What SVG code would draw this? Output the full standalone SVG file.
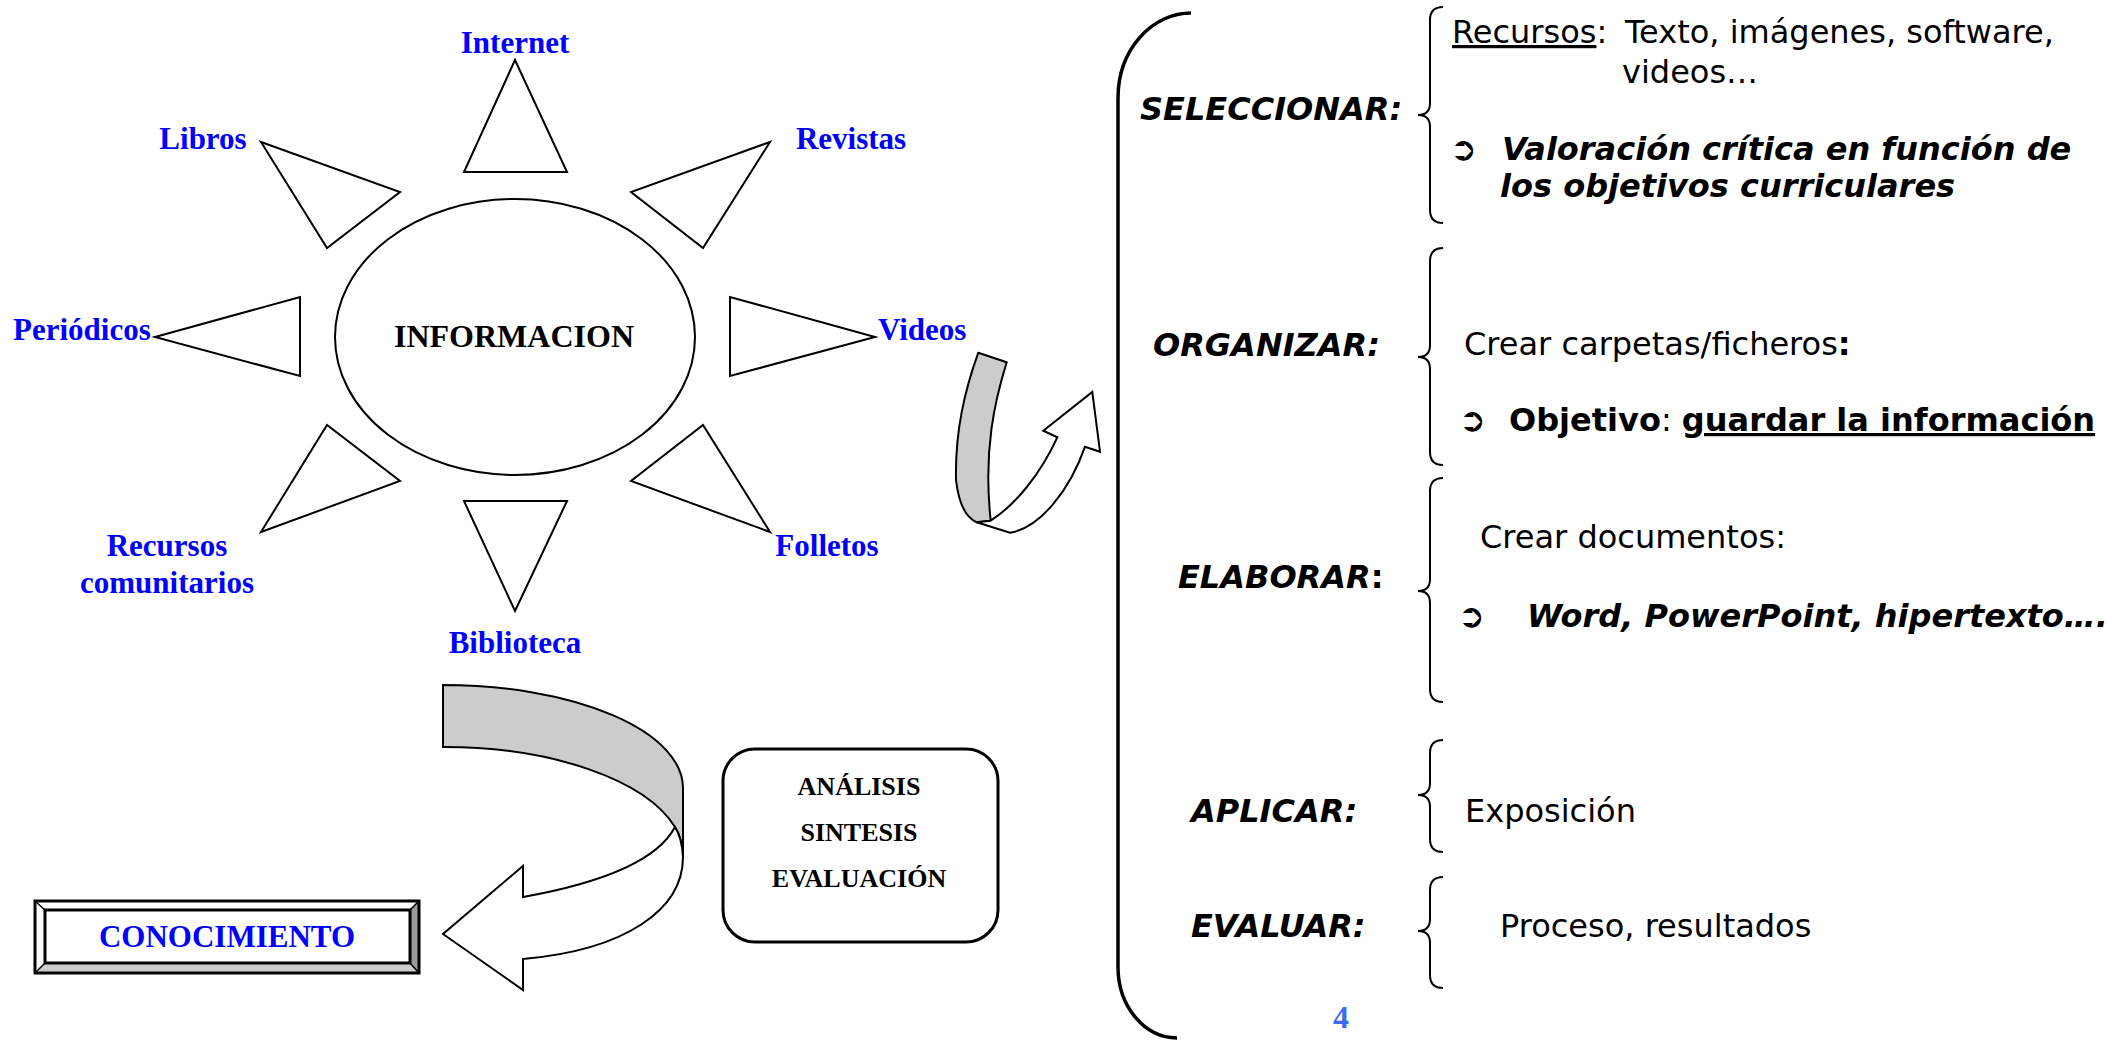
<svg xmlns="http://www.w3.org/2000/svg" width="2125" height="1041" viewBox="0 0 2125 1041">
<style>
.lbl{font-family:"Liberation Serif","Times New Roman",serif;font-weight:bold;font-size:31px;fill:#0000ff}
.blk{font-family:"Liberation Serif","Times New Roman",serif;font-weight:bold;fill:#000}
.tri{fill:#fff;stroke:#000;stroke-width:2;stroke-linejoin:miter}
.r{font-family:"DejaVu Sans",Verdana,sans-serif;font-size:32px;fill:#000}
.h{font-weight:bold;font-style:italic}
.b{font-weight:bold}
.brace{fill:none;stroke:#000;stroke-width:2}
.arr{font-size:32px;font-weight:bold}
</style>
<rect width="2125" height="1041" fill="#fff"/>

<g id="informacion">
<ellipse cx="515" cy="337" rx="180" ry="138" fill="#fff" stroke="#000" stroke-width="2"/>
<text class="blk" x="514" y="347" font-size="32" text-anchor="middle">INFORMACION</text>
</g>
<g id="internet">
<polygon class="tri" points="515,60 567,172 464,172"/>
<text class="lbl" x="515" y="53" text-anchor="middle">Internet</text>
</g>
<g id="libros">
<polygon class="tri" points="261,142 400,192 327,248"/>
<text class="lbl" x="203" y="149" text-anchor="middle">Libros</text>
</g>
<g id="revistas">
<polygon class="tri" points="770,142 631,192 703,248"/>
<text class="lbl" x="851" y="149" text-anchor="middle">Revistas</text>
</g>
<g id="periodicos">
<polygon class="tri" points="155,337 300,297 300,376"/>
<text class="lbl" x="13" y="340">Periódicos</text>
</g>
<g id="videos">
<polygon class="tri" points="875,337 730,297 730,376"/>
<text class="lbl" x="878" y="340">Videos</text>
</g>
<g id="recursos-comunitarios">
<polygon class="tri" points="261,532 400,481 327,425"/>
<text class="lbl" x="167" y="556" text-anchor="middle">Recursos</text>
<text class="lbl" x="167" y="593" text-anchor="middle">comunitarios</text>
</g>
<g id="folletos">
<polygon class="tri" points="770,532 631,481 703,425"/>
<text class="lbl" x="827" y="556" text-anchor="middle">Folletos</text>
</g>
<g id="biblioteca">
<polygon class="tri" points="515,611 567,501 464,501"/>
<text class="lbl" x="515" y="653" text-anchor="middle">Biblioteca</text>
</g>

<g id="conocimiento">
<polygon points="35,901 419,901 410,910 45,910" fill="#fff"/>
<polygon points="35,901 45,910 45,963 35,973" fill="#fff"/>
<polygon points="419,901 419,973 410,963 410,910" fill="#999"/>
<polygon points="35,973 419,973 410,963 45,963" fill="#ccc"/>
<path d="M35,901 L45,910 M419,901 L410,910 M419,973 L410,963 M35,973 L45,963" stroke="#000" stroke-width="1.5"/>
<rect x="35" y="901" width="384" height="72" fill="none" stroke="#000" stroke-width="3"/>
<rect x="45" y="910" width="365" height="53" fill="#fff" stroke="#000" stroke-width="3"/>
<text class="lbl" x="227" y="947" font-size="32" text-anchor="middle">CONOCIMIENTO</text>
</g>

<g id="analisis">
<rect x="723" y="749" width="275" height="193" rx="32" ry="32" fill="#fff" stroke="#000" stroke-width="3"/>
<text class="blk" x="859" y="795" font-size="26" text-anchor="middle">ANÁLISIS</text>
<text class="blk" x="859" y="841" font-size="26" text-anchor="middle">SINTESIS</text>
<text class="blk" x="859" y="887" font-size="26" text-anchor="middle">EVALUACIÓN</text>
</g>

<g id="connectors">
<path d="M978.3,352.7 L1006.7,362.3 C995,400 983,450 990.7,520.7 L976.7,522.3 Q960,515 956,480 C955,430 965,390 978.3,352.7 Z" fill="#ccc" stroke="#000" stroke-width="2" stroke-linejoin="round"/>
<path d="M976.7,522.3 L1010,532.7 C1040,528 1070,490 1085,446.7 L1100,451.7 L1092.3,392 L1043.3,430.7 L1057.3,437.3 C1040,475 1015,505 990.7,520.7 Z" fill="#fff" stroke="#000" stroke-width="2" stroke-linejoin="miter"/>
<path d="M443,685 A240,103 0 0 1 683,788 L683,857 Q682,838 675,827 A240,110 0 0 0 443,747 Z" fill="#ccc" stroke="#000" stroke-width="2"/>
<path d="M675,827 C655,865 590,885 523,897 L523,866 L443,934 L523,990 L523,959 C625,950 683,910 683,857 Q682,838 675,827 Z" fill="#fff" stroke="#000" stroke-width="2"/>
</g>

<g id="bracket">
<path d="M1191,13 A73,85 0 0 0 1118,98 L1118,967 A59,71 0 0 0 1177,1038" fill="none" stroke="#000" stroke-width="3.5"/>
</g>

<g id="seleccionar">
<path class="brace" d="M1443,7 Q1430,7 1430,20 L1430,103 Q1430,115 1418,115 Q1430,115 1430,127 L1430,210 Q1430,223 1443,223"/>
<text class="r h" x="1140" y="120">SELECCIONAR:</text>
<text class="r" x="1452" y="43"><tspan text-decoration="underline">Recursos</tspan>:</text>
<text class="r" x="1625" y="43">Texto, imágenes, software,</text>
<text class="r" x="1622" y="83">videos…</text>
<text class="r" y="160"><tspan class="arr" x="1450">➲</tspan><tspan class="h" x="1502">Valoración crítica en función de</tspan></text>
<text class="r h" x="1500" y="197">los objetivos curriculares</text>
</g>

<g id="organizar">
<path class="brace" d="M1443,248 Q1430,248 1430,261 L1430,345 Q1430,357 1418,357 Q1430,357 1430,369 L1430,452 Q1430,465 1443,465"/>
<text class="r h" x="1153" y="356">ORGANIZAR:</text>
<text class="r" x="1464" y="355">Crear carpetas/ficheros<tspan class="b">:</tspan></text>
<text class="r" y="431"><tspan class="arr" x="1459">➲</tspan><tspan class="b" x="1509">Objetivo</tspan>: <tspan class="b" text-decoration="underline">guardar la información</tspan></text>
</g>

<g id="elaborar">
<path class="brace" d="M1443,478 Q1430,478 1430,491 L1430,579 Q1430,591 1418,591 Q1430,591 1430,603 L1430,689 Q1430,702 1443,702"/>
<text class="r h" x="1178" y="588">ELABORAR<tspan font-style="normal">:</tspan></text>
<text class="r" x="1480" y="548">Crear documentos:</text>
<text class="r" y="627"><tspan class="arr" x="1458">➲</tspan><tspan class="h" x="1527">Word, PowerPoint, hipertexto….</tspan></text>
</g>

<g id="aplicar">
<path class="brace" d="M1443,740 Q1430,740 1430,753 L1430,783 Q1430,795 1418,795 Q1430,795 1430,807 L1430,839 Q1430,852 1443,852"/>
<text class="r h" x="1191" y="822">APLICAR:</text>
<text class="r" x="1465" y="822">Exposición</text>
</g>

<g id="evaluar">
<path class="brace" d="M1443,877 Q1430,877 1430,890 L1430,919 Q1430,931 1418,931 Q1430,931 1430,943 L1430,975 Q1430,988 1443,988"/>
<text class="r h" x="1191" y="937">EVALUAR:</text>
<text class="r" x="1500" y="937">Proceso, resultados</text>
</g>

<g id="page-number">
<text x="1341" y="1028" font-family="Liberation Serif, serif" font-weight="bold" font-size="32" fill="#3d6cf0" text-anchor="middle">4</text>
</g>
</svg>
